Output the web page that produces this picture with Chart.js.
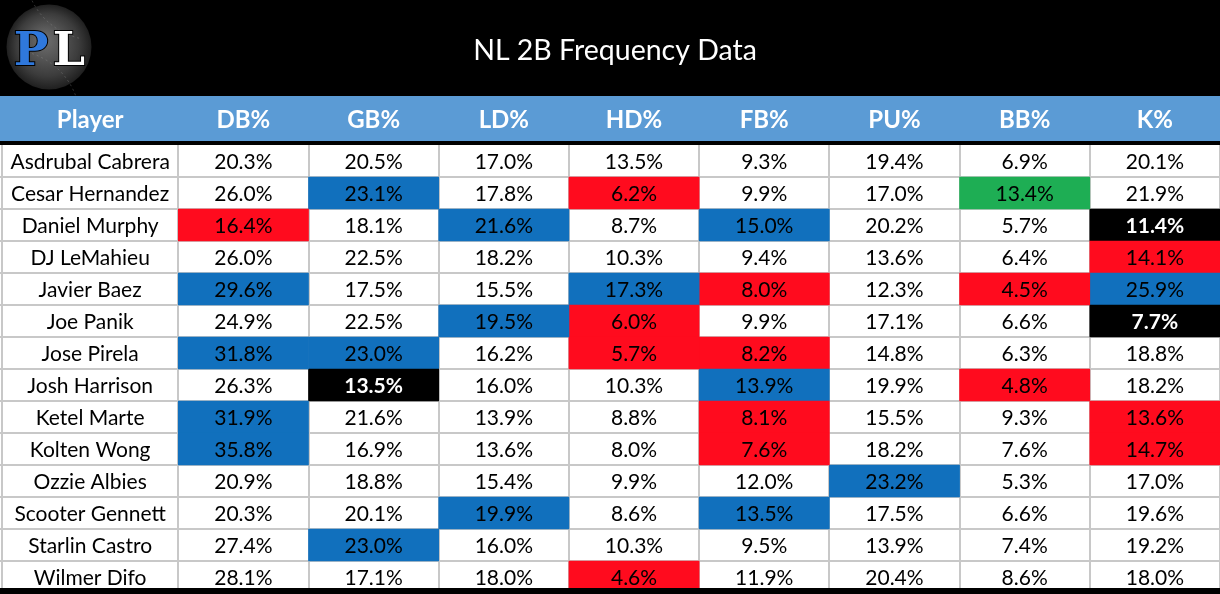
<!DOCTYPE html>
<html>
<head>
<meta charset="utf-8">
<title>NL 2B Frequency Data</title>
<script src="https://cdn.jsdelivr.net/npm/chart.js@4"></script>
<style>
  html, body { margin: 0; padding: 0; background: #000; }
  #wrap { width: 1220px; height: 594px; }
</style>
</head>
<body>
<div id="wrap"><canvas id="freqChart" width="1220" height="594"></canvas></div>
<script>
const title = 'NL 2B Frequency Data';
const players = ['Asdrubal Cabrera', 'Cesar Hernandez', 'Daniel Murphy', 'DJ LeMahieu', 'Javier Baez',
  'Joe Panik', 'Jose Pirela', 'Josh Harrison', 'Ketel Marte', 'Kolten Wong', 'Ozzie Albies',
  'Scooter Gennett', 'Starlin Castro', 'Wilmer Difo'];
const columns = ['DB%', 'GB%', 'LD%', 'HD%', 'FB%', 'PU%', 'BB%', 'K%'];

const dbPct = [20.3, 26.0, 16.4, 26.0, 29.6, 24.9, 31.8, 26.3, 31.9, 35.8, 20.9, 20.3, 27.4, 28.1];
const gbPct = [20.5, 23.1, 18.1, 22.5, 17.5, 22.5, 23.0, 13.5, 21.6, 16.9, 18.8, 20.1, 23.0, 17.1];
const ldPct = [17.0, 17.8, 21.6, 18.2, 15.5, 19.5, 16.2, 16.0, 13.9, 13.6, 15.4, 19.9, 16.0, 18.0];
const hdPct = [13.5, 6.2, 8.7, 10.3, 17.3, 6.0, 5.7, 10.3, 8.8, 8.0, 9.9, 8.6, 10.3, 4.6];
const fbPct = [9.3, 9.9, 15.0, 9.4, 8.0, 9.9, 8.2, 13.9, 8.1, 7.6, 12.0, 13.5, 9.5, 11.9];
const puPct = [19.4, 17.0, 20.2, 13.6, 12.3, 17.1, 14.8, 19.9, 15.5, 18.2, 23.2, 17.5, 13.9, 20.4];
const bbPct = [6.9, 13.4, 5.7, 6.4, 4.5, 6.6, 6.3, 4.8, 9.3, 7.6, 5.3, 6.6, 7.4, 8.6];
const kPct = [20.1, 21.9, 11.4, 14.1, 25.9, 7.7, 18.8, 18.2, 13.6, 14.7, 17.0, 19.6, 19.2, 18.0];

// one char per stat column: b = blue, r = red, k = black, g = green, . = none
const marks = ['........', '.b.r..g.', 'r.b.b..k', '.......r', 'b..br.rb', '..br...k', 'bb.rr...',
  '.k..b.r.', 'b...r..r', 'b...r..r', '.....b..', '..b.b...', '.b......', '...r....'];

const statValues = [dbPct, gbPct, ldPct, hdPct, fbPct, puPct, bbPct, kPct];

const fills = { b: '#1170bd', r: '#ff0b1e', k: '#000000', g: '#1eae54' };
const nameWidth = 176 / 130;   // player column, in stat-column units
const edges = [0, nameWidth].concat(columns.map((c, i) => nameWidth + i + 1));
const FONT = 'Lato, "Open Sans", sans-serif';

// draw the black frame, header band, grid and every piece of text
const tablePlugin = {
  id: 'tablePlugin',
  beforeDraw(chart) {
    const ctx = chart.ctx;
    const x = chart.scales.x, y = chart.scales.y;
    const top = chart.chartArea.top;
    ctx.save();
    ctx.fillStyle = '#000';
    ctx.fillRect(0, 0, chart.width, chart.height);
    ctx.fillStyle = '#fff';
    ctx.fillRect(0, top, chart.width, chart.height - top);
    ctx.fillStyle = '#5b9bd5';
    ctx.fillRect(0, 96, chart.width, 45);

    ctx.strokeStyle = '#c8c8c8';
    ctx.lineWidth = 2;
    const band = (y.getPixelForValue(1) - y.getPixelForValue(0));
    ctx.beginPath();
    edges.forEach(e => {
      const px = Math.round(x.getPixelForValue(e));
      ctx.moveTo(px, top);
      ctx.lineTo(px, chart.height);
    });
    players.forEach((p, i) => {
      const py = Math.round(y.getPixelForValue(i) + band / 2);
      ctx.moveTo(0, py);
      ctx.lineTo(chart.width, py);
    });
    ctx.stroke();
    ctx.restore();
  },
  afterDatasetsDraw(chart) {
    const ctx = chart.ctx;
    const x = chart.scales.x, y = chart.scales.y;
    ctx.save();
    ctx.textAlign = 'center';
    ctx.textBaseline = 'middle';

    // header labels
    ctx.fillStyle = '#fff';
    ctx.font = 'bold 24px ' + FONT;
    const heads = ['Player'].concat(columns);
    heads.forEach((h, i) => {
      const cx = (x.getPixelForValue(edges[i]) + x.getPixelForValue(edges[i + 1])) / 2;
      ctx.fillText(h, cx, 120);
    });

    // player names
    ctx.fillStyle = '#000';
    ctx.font = '21px ' + FONT;
    const nameX = (x.getPixelForValue(0) + x.getPixelForValue(nameWidth)) / 2;
    players.forEach((p, i) => ctx.fillText(p, nameX, y.getPixelForValue(i) + 1));

    // cell values, placed at the centre of each bar element
    chart.data.datasets.forEach((ds, c) => {
      chart.getDatasetMeta(c).data.forEach((bar, r) => {
        const pt = bar.getCenterPoint();
        const dark = marks[r][c] === 'k';
        ctx.fillStyle = dark ? '#fff' : '#000';
        ctx.font = (dark ? 'bold ' : '') + '21px ' + FONT;
        ctx.fillText(statValues[c][r].toFixed(1) + '%', pt.x, pt.y + 1);
      });
    });

    // title
    ctx.fillStyle = '#fff';
    ctx.font = '28.5px ' + FONT;
    ctx.fillText(title, 615, 51);

    // PL logo
    const g = ctx.createRadialGradient(44, 40, 4, 49, 47, 43);
    g.addColorStop(0, '#6a6a6a');
    g.addColorStop(0.7, '#3c3c3c');
    g.addColorStop(1, '#1e1e1e');
    ctx.fillStyle = g;
    ctx.beginPath();
    ctx.arc(49, 47, 42.5, 0, Math.PI * 2);
    ctx.fill();
    ctx.strokeStyle = 'rgba(150,150,150,0.35)';
    ctx.lineWidth = 1;
    ctx.setLineDash([2, 3]);
    ctx.beginPath();
    ctx.arc(10, 120, 70, -1.25, -0.35);
    ctx.stroke();
    ctx.beginPath();
    ctx.arc(95, -30, 70, 1.8, 2.7);
    ctx.stroke();
    ctx.setLineDash([]);
    ctx.font = 'bold 46px "DejaVu Serif", serif';
    ctx.textAlign = 'center';
    ctx.textBaseline = 'alphabetic';
    ctx.lineWidth = 2;
    ctx.strokeStyle = '#000';
    ctx.fillStyle = '#2f78dc';
    ctx.strokeText('P', 31, 65);
    ctx.fillText('P', 31, 65);
    ctx.fillStyle = '#fff';
    ctx.strokeText('L', 69, 65);
    ctx.fillText('L', 69, 65);

    // black line under the header and cropped bottom edge
    ctx.fillStyle = '#000';
    ctx.fillRect(0, 141, chart.width, 4);
    ctx.fillRect(0, 588, chart.width, chart.height - 588);
    ctx.restore();
  }
};

const datasets = columns.map((col, c) => ({
  label: col,
  data: players.map(() => [edges[c + 1], edges[c + 2]]),
  backgroundColor: (ctx) => fills[marks[ctx.dataIndex][c]] || 'rgba(0,0,0,0)',
  borderWidth: 0,
  grouped: false,
  barPercentage: 1,
  categoryPercentage: 1
}));

new Chart(document.getElementById('freqChart'), {
  type: 'bar',
  data: { labels: players, datasets: datasets },
  options: {
    indexAxis: 'y',
    responsive: false,
    animation: false,
    layout: { padding: { top: 145, left: 2, right: 0, bottom: 1 } },
    plugins: { legend: { display: false }, tooltip: { enabled: false } },
    scales: {
      x: { type: 'linear', min: 0, max: edges[edges.length - 1], display: false },
      y: { type: 'category', display: false, offset: true }
    }
  },
  plugins: [tablePlugin]
});
</script>
</body>
</html>
